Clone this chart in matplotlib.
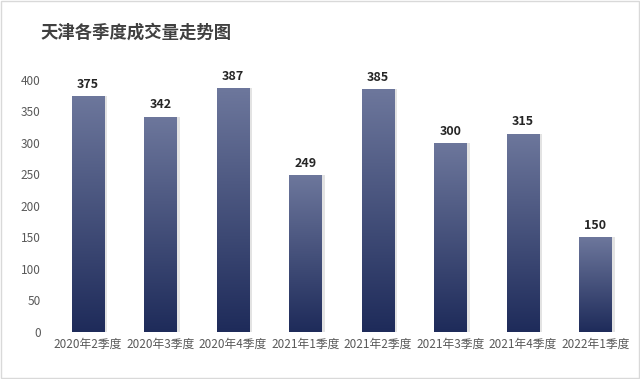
import matplotlib
matplotlib.use("Agg")
import matplotlib.pyplot as plt
import numpy as np
from matplotlib.colors import LinearSegmentedColormap
from matplotlib.patches import Rectangle

plt.rcParams['font.family'] = ['Noto Sans CJK SC', 'DejaVu Sans']

categories = ["2020年2季度", "2020年3季度", "2020年4季度", "2021年1季度",
              "2021年2季度", "2021年3季度", "2021年4季度", "2022年1季度"]
values = [375, 342, 387, 249, 385, 300, 315, 150]
yticks = [0, 50, 100, 150, 200, 250, 300, 350, 400]
title = "天津各季度成交量走势图"

fig = plt.figure(figsize=(6.4, 3.79), dpi=100)
ax = fig.add_axes([0.081, 0.124, 0.906, 0.665])

x = np.arange(len(categories))
width = 0.45

# shadow
ax.bar(x + 0.04, values, width=width, color="#c8c8c8", alpha=0.5, zorder=1)
bars = ax.bar(x, values, width=width, color="#3a4573", zorder=2)

cmap = LinearSegmentedColormap.from_list("g", ["#1e2b5a", "#6d779c"])
grad = np.linspace(0, 1, 256).reshape(-1, 1)
for b in bars:
    x0, y0 = b.get_x(), b.get_y()
    w, h = b.get_width(), b.get_height()
    im = ax.imshow(grad, cmap=cmap, aspect="auto", origin="lower",
                   extent=[x0, x0 + w, y0, y0 + h], zorder=3)
    im.set_clip_path(b)

for xi, v in zip(x, values):
    ax.text(xi, v + 8, str(v), ha="center", va="bottom", fontsize=9,
            fontweight="bold", color="#262626", zorder=4)

ax.set_xlim(-0.5, len(categories) - 0.5)
ax.set_ylim(0, 400)
ax.set_yticks(yticks)
ax.set_xticks(x)
ax.set_xticklabels(categories)
ax.tick_params(axis="both", length=0, labelsize=8.5, colors="#595959")
ax.tick_params(axis="x", pad=4)
ax.tick_params(axis="y", pad=8)
for s in ax.spines.values():
    s.set_visible(False)

fig.text(0.063, 0.915, title, fontsize=12.5, fontweight="bold", color="#404040",
         ha="left", va="center")

fig.patches.append(Rectangle((0.002, 0.003), 0.996, 0.994, transform=fig.transFigure,
                             fill=False, edgecolor="#d9d9d9", linewidth=1))

fig.savefig("out.png", dpi=100)
